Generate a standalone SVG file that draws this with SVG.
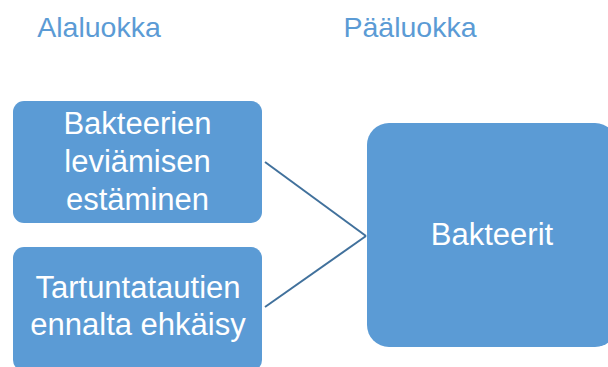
<svg xmlns="http://www.w3.org/2000/svg" width="608" height="367" viewBox="0 0 608 367">
<style>
.box{fill:#5B9BD5}
.t{font-family:"Liberation Sans",Arial,sans-serif;font-size:31px;fill:#FFFFFF;text-anchor:middle}
.h{font-family:"Liberation Sans",Arial,sans-serif;font-size:28.5px;fill:#5B9BD5;text-anchor:middle}
.c{stroke:#41719C;stroke-width:2;fill:none}
</style>
<rect width="608" height="367" fill="#FFFFFF"/>
<g id="header-alaluokka"><text class="h" x="99" y="37">Alaluokka</text></g>
<g id="header-paaluokka"><text class="h" x="410" y="37">Pääluokka</text></g>
<g id="connectors">
<line class="c" x1="265" y1="162" x2="366" y2="236"/>
<line class="c" x1="265" y1="307" x2="366" y2="236"/>
</g>
<g id="node-bakteerien">
<rect class="box" x="13" y="101" width="249" height="122" rx="11"/>
<text class="t" x="137.5" y="134">Bakteerien</text>
<text class="t" x="137.5" y="172">leviämisen</text>
<text class="t" x="137.5" y="210">estäminen</text>
</g>
<g id="node-tartuntatautien">
<rect class="box" x="13" y="247" width="249" height="124" rx="11"/>
<text class="t" x="138" y="298">Tartuntatautien</text>
<text class="t" x="138" y="335">ennalta ehkäisy</text>
</g>
<g id="node-bakteerit">
<rect class="box" x="367" y="123" width="250" height="224" rx="22"/>
<text class="t" x="492" y="245">Bakteerit</text>
</g>
</svg>
